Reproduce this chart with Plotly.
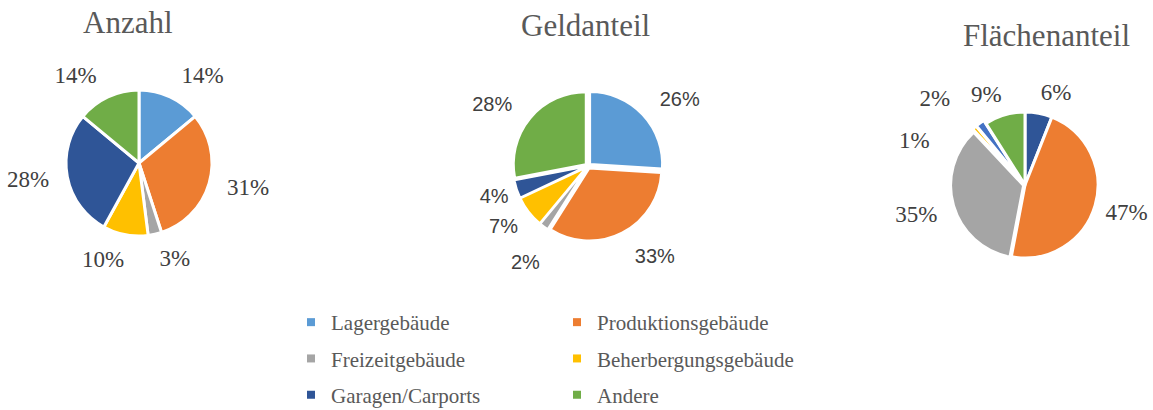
import plotly.graph_objects as go

categories = ["Lagergebäude", "Produktionsgebäude", "Freizeitgebäude",
              "Beherbergungsgebäude", "Garagen/Carports", "Andere"]
colors = ["#5B9BD5", "#ED7D31", "#A5A5A5", "#FFC000", "#2F5597", "#70AD47"]

anzahl = [14, 31, 3, 10, 28, 14]
geldanteil = [26, 33, 2, 7, 4, 28]

# Flächenanteil is drawn in a different slice order in the original
flaeche_labels = ["Garagen/Carports", "Produktionsgebäude", "Freizeitgebäude",
                  "Beherbergungsgebäude", "Lagergebäude", "Andere"]
flaeche = [6, 47, 35, 1, 2, 9]
flaeche_colors = ["#2F5597", "#ED7D31", "#A5A5A5", "#FFC000", "#4472C4", "#70AD47"]

SERIF = "Liberation Serif, Times New Roman, serif"
SANS = "Liberation Sans, Arial, sans-serif"
TXT = "#404040"

W, H = 1153, 410


def dom(cx, cy, half):
    return dict(x=[(cx - half) / W, (cx + half) / W],
                y=[1 - (cy + half) / H, 1 - (cy - half) / H])


def add_pie(fig, labels, values, cols, cx, cy, r, label_sets, font, line_w, pull):
    half = r * (1 + max(pull))
    # the coloured pie, no text
    fig.add_trace(go.Pie(
        labels=labels, values=values, sort=False, direction="clockwise",
        marker=dict(colors=cols, line=dict(color="white", width=line_w)),
        pull=pull, textinfo="none",
        domain=dom(cx, cy, half), showlegend=False, hoverinfo="label+value",
    ))
    # transparent, slightly larger copies carry the outside labels
    # (split in groups so small neighbouring slices don't push each other)
    for gap, shown, rot in label_sets:
        pos = ["outside" if i in shown else "none" for i in range(len(values))]
        fig.add_trace(go.Pie(
            labels=labels, values=values, sort=False, direction="clockwise",
            marker=dict(colors=["rgba(0,0,0,0)"] * len(values), line=dict(width=0)),
            pull=pull, rotation=rot,
            texttemplate="%{value}%", textposition=pos, textfont=font,
            domain=dom(cx, cy, half + gap), showlegend=False, hoverinfo="skip",
        ))


fig = go.Figure()

add_pie(fig, categories, anzahl, colors, 139, 163, 73,
        [(12, [0, 1, 4, 5], 0), (12, [2], 3), (12, [3], -5)],
        dict(family=SERIF, size=23, color=TXT), 3, [0] * 6)
add_pie(fig, categories, geldanteil, colors, 588, 166, 72,
        [(16, [0, 1, 5], 0), (10, [3], -3), (4, [4], -3), (22, [2], -10)],
        dict(family=SANS, size=20, color=TXT), 2, [0.04] * 6)
add_pie(fig, flaeche_labels, flaeche, flaeche_colors, 1025, 185, 73,
        [(12, [2], -3), (6, [1], 3), (8, [0], -4), (8, [5], 4),
         (28, [4], -5), (22, [3], -23)],
        dict(family=SERIF, size=23, color=TXT), 3, [0, 0, 0.02, 0.05, 0.05, 0])

# legend: two columns built from dummy marker traces
for i, (name, col) in enumerate(zip(categories, colors)):
    fig.add_trace(go.Scatter(
        x=[None], y=[None], mode="markers", name=name,
        marker=dict(symbol="square", size=8, color=col),
        legend="legend" if i % 2 == 0 else "legend2",
        legendgroup=name,
    ))

titles = [("Anzahl", 128, 22), ("Geldanteil", 585, 25), ("Flächenanteil", 1046, 36)]
for txt, x, y in titles:
    fig.add_annotation(text=txt, x=x / W, y=1 - y / H,
                       xref="paper", yref="paper",
                       showarrow=False, xanchor="center", yanchor="middle",
                       font=dict(family=SERIF, size=31, color="#595959"))

leg_font = dict(family=SERIF, size=21, color="#595959")
fig.update_layout(
    width=W, height=H,
    margin=dict(l=0, r=0, t=0, b=0, autoexpand=False),
    paper_bgcolor="white", plot_bgcolor="white",
    xaxis=dict(visible=False), yaxis=dict(visible=False),
    legend=dict(x=291 / W, y=1 - 302 / H, xanchor="left", yanchor="top",
                font=leg_font, tracegroupgap=6, bgcolor="rgba(0,0,0,0)"),
    legend2=dict(x=557 / W, y=1 - 302 / H, xanchor="left", yanchor="top",
                 font=leg_font, tracegroupgap=6, bgcolor="rgba(0,0,0,0)"),
)

# drop the browser's default 8px body margin so the figure fills the window
fig.write_html("out.html", config={"displayModeBar": False},
               post_script="document.body.style.margin = '0';")
